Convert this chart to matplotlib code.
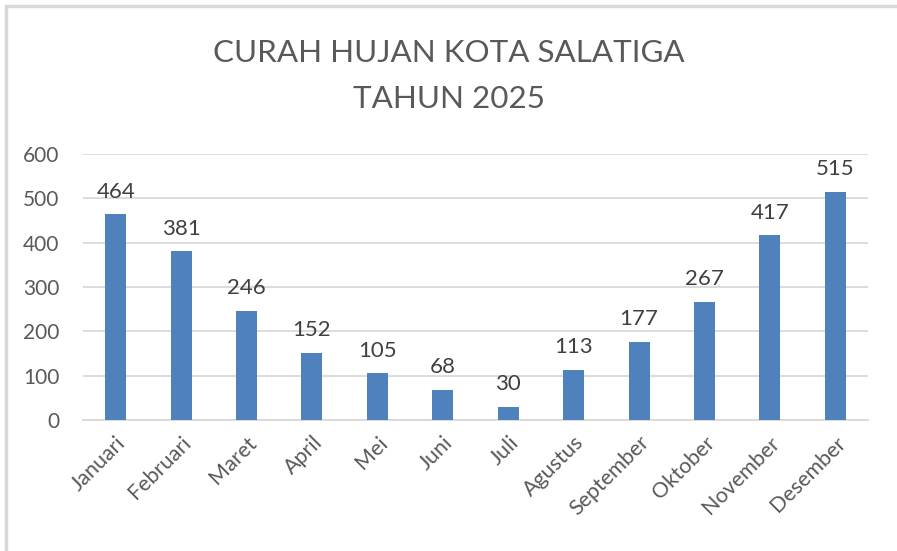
import matplotlib
matplotlib.use("Agg")
import matplotlib.pyplot as plt
from matplotlib.patches import Rectangle

months = ["Januari", "Februari", "Maret", "April", "Mei", "Juni", "Juli",
          "Agustus", "September", "Oktober", "November", "Desember"]
rainfall = [464, 381, 246, 152, 105, 68, 30, 113, 177, 267, 417, 515]
yticks = [0, 100, 200, 300, 400, 500, 600]
title = "CURAH HUJAN KOTA SALATIGA\nTAHUN 2025"

plt.rcParams['font.family'] = ['Lato', 'DejaVu Sans']

fig = plt.figure(figsize=(8.97, 5.51), dpi=100)
fig.patches.append(Rectangle((6/897, -0.1), 1.2, 1 - 6/551 + 0.1, transform=fig.transFigure,
                             fill=False, edgecolor="#d9d9d9", linewidth=2.5, zorder=0))

ax = fig.add_axes([83/897, 1 - 420/551, (868 - 83)/897, (420 - 154)/551])
x = list(range(len(months)))
bars = ax.bar(x, rainfall, width=0.32, color="#4f81bd", zorder=3)
for xi, v in zip(x, rainfall):
    ax.annotate(str(v), (xi, v), xytext=(0, 9), textcoords="offset points",
                ha="center", va="bottom", fontsize=16, color="#404040")

ax.set_xlim(-0.5, len(months) - 0.5)
ax.set_ylim(0, 600)
ax.set_yticks(yticks)
ax.set_yticklabels([str(t) for t in yticks], fontsize=15, color="#595959")
ax.set_xticks(x)
ax.set_xticklabels(months, rotation=45, ha="right", rotation_mode="anchor",
                   fontsize=15.5, color="#595959")
ax.tick_params(axis="y", length=0, pad=17)
ax.tick_params(axis="x", length=0, pad=9)
ax.grid(axis="y", color="#d9d9d9", linewidth=1.3, zorder=0)
for s in ["top", "right", "left"]:
    ax.spines[s].set_visible(False)
ax.spines["bottom"].set_color("#d9d9d9")
ax.spines["bottom"].set_linewidth(1.3)

fig.text(0.5, 1 - 76/551, title, ha="center", va="center", fontsize=22.6,
         color="#595959", linespacing=1.75)

fig.savefig("out.png", dpi=100)
